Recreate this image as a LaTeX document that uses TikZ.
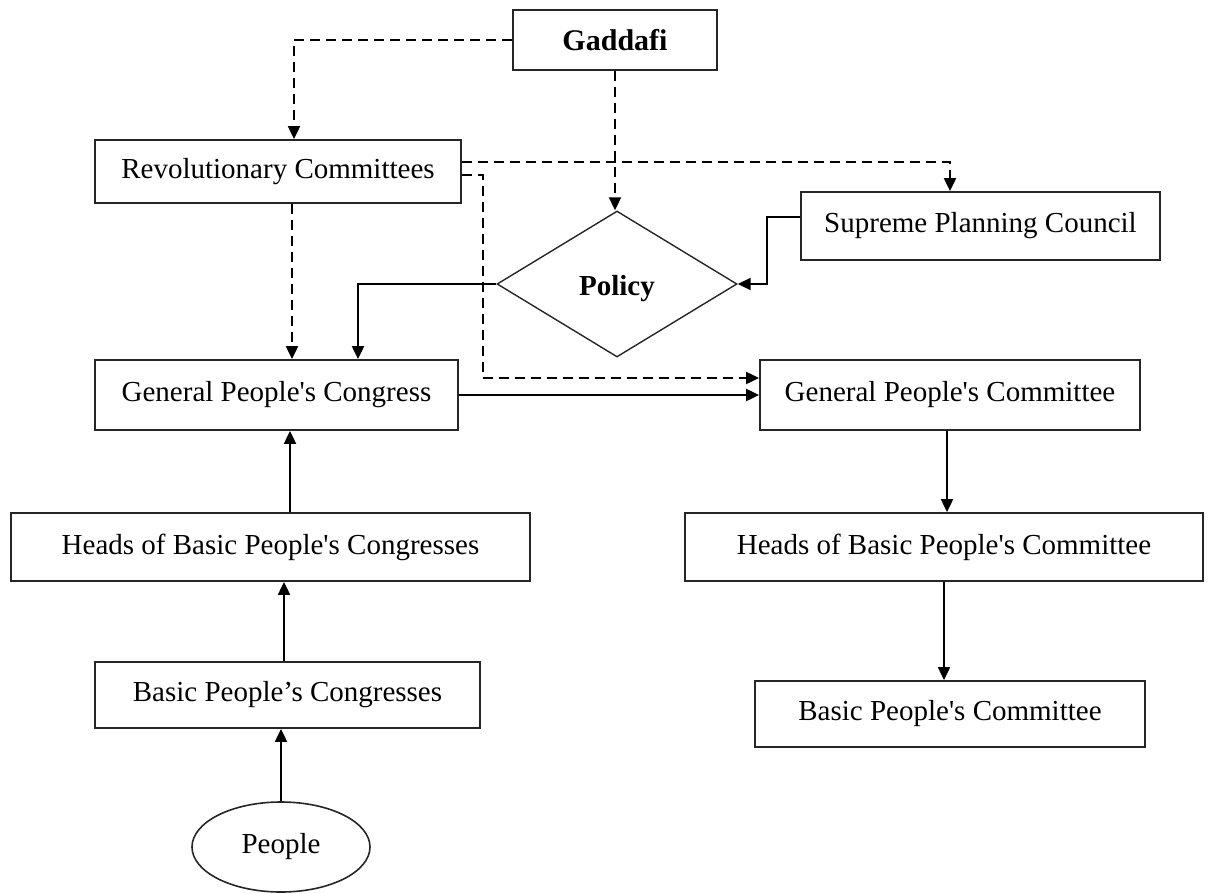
\documentclass[tikz,border=0pt]{standalone}
\usepackage{fontspec}
\setmainfont{Liberation Serif}
\usetikzlibrary{arrows.meta,shapes.geometric}

\begin{document}
\begin{tikzpicture}[x=1pt,y=-1pt,
  every node/.style={inner sep=0pt, font=\fontsize{29}{34}\selectfont},
  box/.style={draw=black!85, line width=1.8pt, rectangle},
  link/.style={draw=black, line width=2pt, -{Triangle[length=13pt,width=12pt]}},
  dlink/.style={link, dash pattern=on 10pt off 6pt},
]
\useasboundingbox (0,0) rectangle (1208,894);

% top of the hierarchy
\node[box, minimum width=204pt, minimum height=60pt, font=\fontsize{30}{34}\selectfont\bfseries]
  (gad) at (615,40) {Gaddafi};
\node[box, minimum width=366pt, minimum height=63pt] (rc) at (278,171.5) {Revolutionary Committees};
\node[box, minimum width=359pt, minimum height=68pt] (spc) at (980.5,226) {Supreme Planning Council};
\node[draw=black!85, line width=1.4pt, diamond, minimum width=240pt, minimum height=146pt,
  font=\fontsize{29}{34}\selectfont\bfseries] (pol) at (617,284) {\smash{\raisebox{-11pt}{Policy}}};

% congress side
\node[box, minimum width=363pt, minimum height=70pt] (gpc) at (276.5,395) {General People\textquotesingle s Congress};
\node[box, minimum width=519pt, minimum height=68pt] (hbpc) at (270.5,547) {Heads of Basic People\textquotesingle s Congresses};
\node[box, minimum width=385pt, minimum height=66pt] (bpc) at (287.5,695) {Basic People’s Congresses};
\node[draw=black!85, line width=1.6pt, ellipse, minimum width=178pt, minimum height=90pt]
  (ppl) at (281,847) {People};

% committee side
\node[box, minimum width=380pt, minimum height=70pt] (gpcom) at (950,395) {General People\textquotesingle s Committee};
\node[box, minimum width=518pt, minimum height=68pt] (hbpcom) at (944,547) {Heads of Basic People\textquotesingle s Committee};
\node[box, minimum width=390pt, minimum height=66pt] (bpcom) at (950,714) {Basic People\textquotesingle s Committee};

% dashed lines of revolutionary control
\draw[dlink] (gad.west) -| ([xshift=16pt]rc.north);
\draw[dlink] (gad.south) -- (gad.south |- pol.north);
\draw[dlink] ([yshift=9.5pt]rc.east) -| ([xshift=-30.5pt]spc.north);
\draw[dlink] ([yshift=-3.5pt]rc.east) -- ++(21,0) |- ([yshift=17pt]gpcom.west);
\draw[dlink] ([xshift=14pt]rc.south) -- ([xshift=14pt]rc.south |- gpc.north);

% solid lines of formal authority
\draw[link] ([yshift=9pt]spc.west) -- ++(-33,0) |- (pol.east);
\draw[link] (pol.west) -| ([xshift=81.5pt]gpc.north);
\draw[link] (gpc.east) -- (gpcom.west);
\draw[link] ([xshift=19.5pt]hbpc.north) -- ([xshift=19.5pt]hbpc.north |- gpc.south);
\draw[link] ([xshift=-3.5pt]bpc.north) -- ([xshift=-3.5pt]bpc.north |- hbpc.south);
\draw[link] (ppl.north) -- (ppl.north |- bpc.south);
\draw[link] ([xshift=-3pt]gpcom.south) -- ([xshift=-3pt]gpcom.south |- hbpcom.north);
\draw[link] (hbpcom.south) -- (hbpcom.south |- bpcom.north);
\end{tikzpicture}
\end{document}
